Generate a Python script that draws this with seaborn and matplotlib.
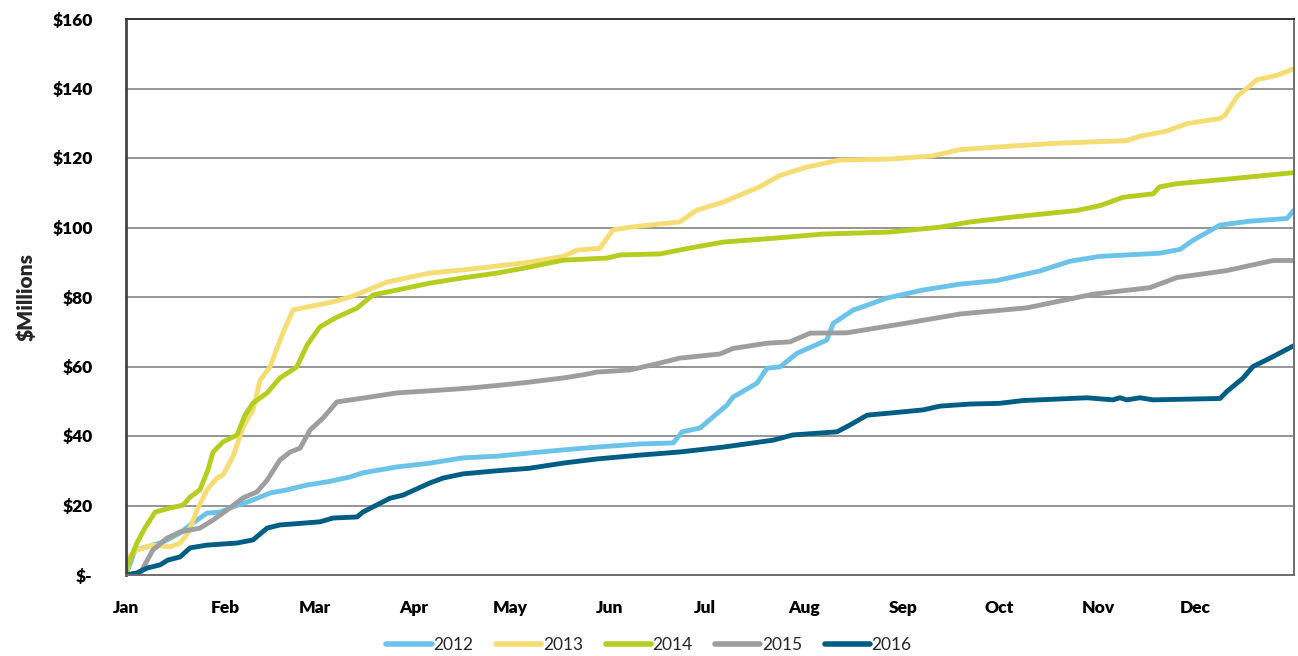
import matplotlib
matplotlib.use("Agg")
import matplotlib.pyplot as plt
import seaborn as sns
import pandas as pd

# ---- data (day of year, $ millions) ----
years = ["2012", "2013", "2014", "2015", "2016"]
colors = ["#6CC3EA", "#F5DC73", "#B5CD1F", "#9E9E9E", "#005E85"]

days_2012 = [0, 2.8, 6.6, 11.6, 16.9, 20.9, 25.3, 29.4, 33.4, 39.7, 45, 50.3, 56.6, 62.8, 70, 74, 84.7, 95,
             105.3, 116, 126, 136.6, 147, 160.6, 171, 173.8, 179.4, 187.8, 189.7, 197.2, 200.3, 204.4, 209.7,
             219, 221, 227.2, 237.8, 249, 260.6, 272, 285.6, 295, 304.4, 323, 329.4, 333.4, 341.9, 351, 362.8, 365]
vals_2012 = [0, 7.2, 8.1, 9.5, 12.1, 15, 17.8, 18.1, 19.6, 21.6, 23.6, 24.5, 25.9, 26.8, 28.2, 29.4, 31.1, 32.2,
             33.7, 34.2, 35.1, 36, 36.8, 37.7, 38, 41.2, 42.3, 48.9, 51.2, 55.2, 59.5, 59.9, 63.8,
             67.6, 72.4, 76.2, 79.7, 82, 83.7, 84.7, 87.5, 90.3, 91.7, 92.6, 93.7, 96.3, 100.7, 101.8, 102.6, 105]

days_2013 = [0, 1.2, 3.4, 8.4, 13.8, 16.9, 19.4, 22.2, 25.3, 28.4, 30.3, 33.4, 36.6, 39.7, 41.9, 45, 49, 52.2,
             56.6, 64.7, 70, 74, 81.6, 95, 105.3, 116, 126, 136.6, 141, 148, 152.2, 157.5, 173, 178.4, 186.6,
             198, 204.4, 212.8, 223, 238.8, 252, 260.6, 276, 292, 312.8, 317, 325, 331.6, 341.9, 343.4, 347.2,
             353.4, 359.7, 365]
vals_2013 = [0, 5.5, 7.2, 8.6, 8.1, 9.2, 12.1, 18.7, 24.5, 27.9, 28.8, 34, 42.6, 47.5, 56.1, 59.9, 69.6, 76.3,
             77.1, 78.6, 80, 81.4, 84.3, 86.9, 87.8, 88.9, 90, 91.7, 93.5, 94, 99.3, 100.1, 101.6, 105, 107.3,
             111.7, 115, 117.4, 119.4, 119.7, 120.6, 122.4, 123.4, 124.3, 125, 126.3, 127.7, 129.9, 131.4, 132.3,
             137.7, 142.5, 143.8, 145.7]

days_2014 = [0, 0.3, 3.4, 5.9, 9.1, 13.8, 17.8, 20, 23.1, 25.6, 27.2, 30.3, 34.7, 37.2, 39.7, 44.1, 48.1, 53.4,
             56.6, 60.6, 65.9, 72.2, 77.2, 84.7, 95, 105.3, 116, 126, 136.6, 150.3, 154.4, 166.9, 176.3, 186.6,
             202.2, 217.8, 238.8, 254.4, 263.8, 276, 297.2, 304.4, 311.6, 321, 323, 328.4, 344, 365]
vals_2014 = [0, 2.3, 9.2, 13.5, 18.1, 19.3, 20.1, 22.4, 24.5, 30.2, 35.4, 38.3, 40.3, 46, 49.5, 52.4, 56.7, 59.9,
             66.2, 71.4, 74.2, 76.8, 80.6, 82, 84, 85.5, 86.9, 88.6, 90.6, 91.2, 92.1, 92.4, 94.1, 95.8,
             96.9, 98.1, 98.7, 100.1, 101.6, 102.9, 104.9, 106.3, 108.7, 109.7, 111.7, 112.6, 113.9, 115.8]

days_2015 = [0, 4.4, 8.4, 12.8, 16.9, 23.1, 27.2, 31.6, 36.6, 40.9, 44.1, 48.1, 51.3, 54.4, 57.5, 61.6, 65.9, 74,
             84.7, 95, 107.5, 117.8, 126, 136.6, 142.8, 147.2, 157.5, 166.9, 173, 185.6, 189.7, 200.3, 207.5,
             213.8, 225.3, 244, 260.6, 281.6, 302.2, 320, 328.4, 344, 358.4, 365]
vals_2015 = [0, 0.5, 7.2, 10.6, 12.4, 13.5, 15.8, 18.7, 22.2, 23.9, 27.3, 33.1, 35.4, 36.5, 41.7, 45.2, 49.8, 50.9,
             52.4, 53, 53.8, 54.7, 55.5, 56.7, 57.6, 58.4, 59, 61, 62.4, 63.6, 65.2, 66.7, 67.1,
             69.6, 69.7, 72.5, 75.1, 76.9, 80.8, 82.7, 85.6, 87.6, 90.5, 90.5]

days_2016 = [0, 3.4, 6.6, 10.6, 13.1, 16.9, 20, 25.3, 34.7, 39.7, 44.1, 48.1, 60.6, 64.7, 72.2, 74, 82.5, 86.6,
             95, 99.1, 105.3, 116, 126, 136.6, 147.2, 160.6, 173, 186.6, 202.2, 208.4, 222.2, 226.3, 231.6,
             238.8, 249, 254.4, 263.8, 273, 280.3, 300.3, 308.4, 310.6, 312.8, 316.9, 321, 341.9, 344, 349,
             352.2, 357.5, 365]
vals_2016 = [0, 0.6, 2, 2.9, 4.3, 5.2, 7.8, 8.6, 9.2, 10.1, 13.5, 14.4, 15.3, 16.4, 16.7, 18.1, 22.1, 23,
             26.5, 27.9, 29.1, 30, 30.7, 32.2, 33.4, 34.5, 35.4, 36.8, 38.8, 40.3, 41.2, 43.2, 46,
             46.6, 47.5, 48.6, 49.2, 49.4, 50.2, 51, 50.4, 51, 50.4, 51, 50.4, 50.8, 52.8, 56.6,
             60, 62.4, 66]

month_labels = ["Jan", "Feb", "Mar", "Apr", "May", "Jun", "Jul", "Aug", "Sep", "Oct", "Nov", "Dec"]
month_starts = [0, 31, 59, 90, 120, 151, 181, 212, 243, 273, 304, 334]
y_ticks = [0, 20, 40, 60, 80, 100, 120, 140, 160]
y_labels = ["$-", "$20", "$40", "$60", "$80", "$100", "$120", "$140", "$160"]

# ---- build long-form table ----
series = {
    "2012": (days_2012, vals_2012),
    "2013": (days_2013, vals_2013),
    "2014": (days_2014, vals_2014),
    "2015": (days_2015, vals_2015),
    "2016": (days_2016, vals_2016),
}
frames = []
for y in years:
    d, v = series[y]
    frames.append(pd.DataFrame({"day": d, "value": v, "year": y}))
df = pd.concat(frames, ignore_index=True)

sns.set_theme(style="white")
plt.rcParams["font.family"] = ["Lato", "DejaVu Sans"]

fig = plt.figure(figsize=(12.98, 6.56), dpi=100)
ax = fig.add_axes([126 / 1298, 1 - 575 / 656, (1294 - 126) / 1298, (575 - 19) / 656])

sns.lineplot(data=df, x="day", y="value", hue="year", hue_order=years,
             palette=dict(zip(years, colors)), estimator=None, sort=False,
             linewidth=3.5, ax=ax, legend=True)
for line in ax.get_lines():
    line.set_solid_capstyle("round")
    line.set_solid_joinstyle("round")

ax.set_xlim(0, 365)
ax.set_ylim(0, 160)
ax.set_yticks(y_ticks)
ax.set_yticklabels(y_labels, fontsize=12.5, fontweight="heavy")
ax.set_xticks(month_starts)
ax.set_xticklabels(month_labels, fontsize=12.5, fontweight="heavy")
ax.tick_params(axis="both", length=0, colors="black")
ax.tick_params(axis="y", pad=24)
ax.tick_params(axis="x", pad=18)
ax.set_xlabel("")
ax.set_ylabel("$Millions", fontsize=15, fontweight="heavy", labelpad=12)

ax.yaxis.grid(True, color="#8C8C8C", linewidth=1.3)
ax.xaxis.grid(False)
ax.set_axisbelow(True)
for side in ["top", "right", "bottom"]:
    ax.spines[side].set_visible(True)
    ax.spines[side].set_color("#6E6E6E")
    ax.spines[side].set_linewidth(1.4)
ax.spines["top"].set_color("#333333")
ax.spines["left"].set_color("#444444")
ax.spines["left"].set_linewidth(2.0)

handles, labels = ax.get_legend_handles_labels()
ax.get_legend().remove()
leg = fig.legend(handles, labels, loc="center", bbox_to_anchor=(0.5, 1 - 645 / 656),
                 ncol=5, frameon=False, fontsize=12.5, handlelength=2.6, handletextpad=0.1,
                 columnspacing=1.3)
for h in leg.get_lines():
    h.set_linewidth(4)
    h.set_solid_capstyle("round")

fig.savefig("out.png", dpi=100)
